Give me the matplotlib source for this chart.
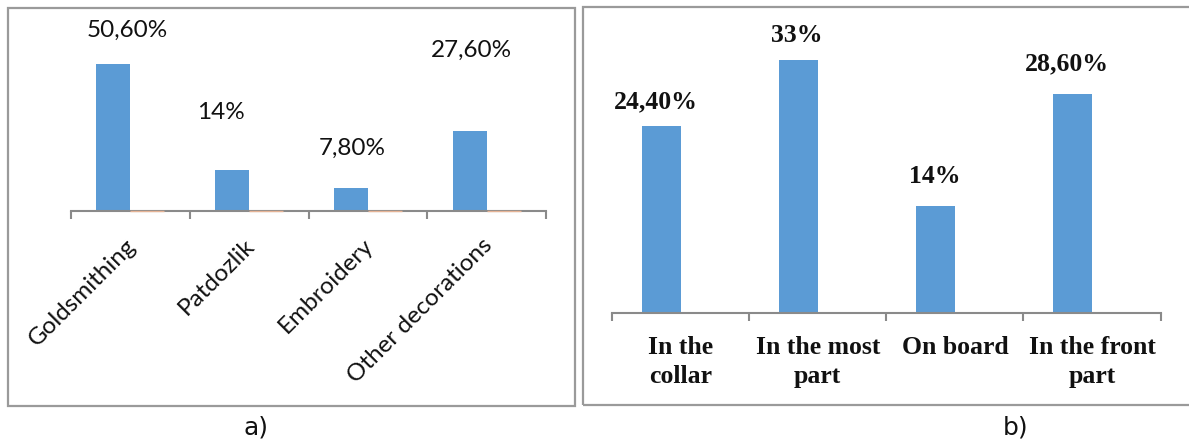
import matplotlib
matplotlib.use("Agg")
import matplotlib.pyplot as plt
from matplotlib.patches import Rectangle
from matplotlib.transforms import ScaledTranslation
import numpy as np

# ---- data ----
cats_a = ["Goldsmithing", "Patdozlik", "Embroidery", "Other decorations"]
vals_a = [50.6, 14, 7.8, 27.6]
zeros_a = [0, 0, 0, 0]

cats_b = ["In the\ncollar", "In the most\npart", "On board", "In the front\npart"]
vals_b = [24.4, 33, 14, 28.6]

# label offsets (pixels) relative to top centre of each bar (style only)
off_a = [(14, 34), (-11, 58), (1, 40), (2, 80)]
off_b = [(-5, 24), (-2, 25), (-1, 29), (-6, 30)]

BLUE = "#5B9BD5"
ORANGE = "#ED7D31"
AXIS = "#8a8a8a"
BORDER = "#9a9a9a"

W, H = 1189, 442
fig = plt.figure(figsize=(W / 100, H / 100), dpi=100)


def fx(px):
    return px / W


def fy(py):
    return 1 - py / H


def fmt(v):
    if float(v).is_integer():
        return f"{int(v)}%"
    return f"{v:.2f}".replace(".", ",") + "%"


# panel borders
fig.patches.append(Rectangle((fx(8), fy(406)), fx(575) - fx(8), fy(8) - fy(406),
                             transform=fig.transFigure, fill=False,
                             edgecolor=BORDER, linewidth=1.6))
fig.patches.append(Rectangle((fx(583), fy(405)), fx(1200) - fx(583), fy(7) - fy(405),
                             transform=fig.transFigure, fill=False,
                             edgecolor=BORDER, linewidth=1.6))

# ---- panel a ----
top_a = 20
ax_a = fig.add_axes([fx(71), fy(211), fx(546) - fx(71), fy(top_a) - fy(211)])
scale_a = 147 / 50.6
ax_a.set_ylim(0, (211 - top_a) / scale_a)
ax_a.set_xlim(-0.5, 3.5)
x = np.arange(len(cats_a))
w = 0.286
ax_a.bar(x - w / 2, vals_a, width=w, color=BLUE, zorder=2)
ax_a.bar(x + w / 2, zeros_a, width=w, color=ORANGE, edgecolor="#e6b496",
         linewidth=1.0, zorder=4, clip_on=False)
for xi, v, (dx, dy) in zip(x, vals_a, off_a):
    ax_a.annotate(fmt(v), (xi - w / 2, v), xytext=(dx, dy), textcoords="offset pixels",
                  ha="center", va="center", fontsize=17.5, family="Lato", color="#111")
for s in ["top", "right", "left"]:
    ax_a.spines[s].set_visible(False)
ax_a.spines["bottom"].set_color(AXIS)
ax_a.spines["bottom"].set_linewidth(1.5)
ax_a.set_yticks([])
ax_a.set_xticks(np.arange(-0.5, 4, 1), minor=False)
ax_a.set_xticklabels([])
ax_a.tick_params(axis="x", which="major", length=6, color=AXIS, width=1.5)
ax_a.set_xticks(x, minor=True)
ax_a.set_xticklabels(cats_a, minor=True, rotation=45, ha="right",
                     rotation_mode="anchor", fontsize=17.5, family="Lato", color="#111")
ax_a.tick_params(axis="x", which="minor", length=0, pad=17)
shift = ScaledTranslation(-5 / 100, 0, fig.dpi_scale_trans)
for lab in ax_a.get_xticklabels(minor=True):
    lab.set_transform(lab.get_transform() + shift)
ax_a.patch.set_visible(False)

# ---- panel b ----
top_b = 20
ax_b = fig.add_axes([fx(612), fy(313.3), fx(1160.6) - fx(612), fy(top_b) - fy(313.3)])
scale_b = 7.67
ax_b.set_ylim(0, (313.3 - top_b) / scale_b)
ax_b.set_xlim(-0.5, 3.5)
xb = np.arange(len(cats_b))
wb = 0.281
ax_b.bar(xb - wb / 2, vals_b, width=wb, color=BLUE, zorder=2)
for xi, v, (dx, dy) in zip(xb, vals_b, off_b):
    ax_b.annotate(fmt(v), (xi - wb / 2, v), xytext=(dx, dy), textcoords="offset pixels",
                  ha="center", va="center", fontsize=18.5, family="Liberation Serif",
                  fontweight="bold", color="#111")
for s in ["top", "right", "left"]:
    ax_b.spines[s].set_visible(False)
ax_b.spines["bottom"].set_color(AXIS)
ax_b.spines["bottom"].set_linewidth(1.5)
ax_b.set_yticks([])
ax_b.set_xticks(np.arange(-0.5, 4, 1))
ax_b.set_xticklabels([])
ax_b.tick_params(axis="x", which="major", length=6, color=AXIS, width=1.5)
ax_b.set_xticks(xb, minor=True)
ax_b.set_xticklabels(cats_b, minor=True, fontsize=18.5, family="Liberation Serif",
                     fontweight="bold", color="#111", linespacing=1.35)
ax_b.tick_params(axis="x", which="minor", length=0, pad=16)
ax_b.patch.set_visible(False)

# panel captions
fig.text(fx(256), fy(427), "a)", ha="center", va="center", fontsize=18,
         family="DejaVu Sans", color="#111")
fig.text(fx(1016), fy(427), "b)", ha="center", va="center", fontsize=18,
         family="DejaVu Sans", color="#111")

fig.savefig("out.png", dpi=100)
